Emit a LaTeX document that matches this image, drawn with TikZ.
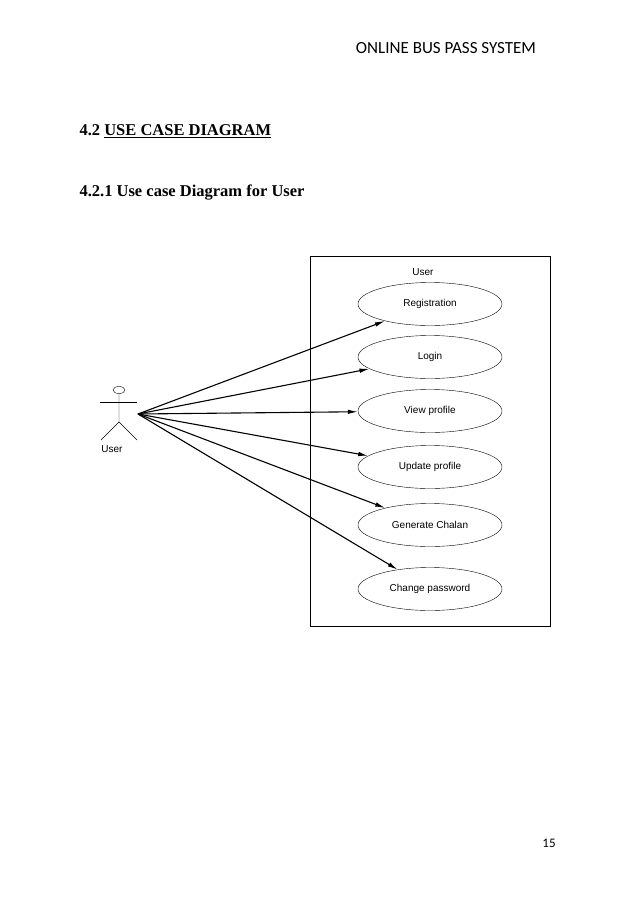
\documentclass[tikz,border=0pt]{standalone}
\usepackage{fontspec}
\setmainfont{Liberation Serif}
\newfontfamily\headfont{Carlito}
\newfontfamily\umlfont{Liberation Sans}
\usetikzlibrary{arrows.meta,positioning,shapes.geometric}
\tikzset{>={Latex[length=10pt,width=4.5pt]}}
\tikzset{
  usecase/.style={draw,ellipse,minimum width=144pt,minimum height=43pt,font=\umlfont\fontsize{10}{12}\selectfont},
  assoc/.style={->,line width=1.1pt}
}

\begin{document}
\begin{tikzpicture}[x=1pt,y=-1pt]
\useasboundingbox (0,0) rectangle (638,903);
%page texts
\node (hdr) at (446,48) {\headfont\fontsize{17}{20}\selectfont ONLINE BUS PASS SYSTEM};
\node[anchor=west] (sec) at (76,131) {\fontsize{16.5}{19}\selectfont\bfseries 4.2 \underline{USE CASE DIAGRAM}};
\node[anchor=west] (subsec) at (76,193) {\fontsize{16.5}{19}\selectfont\bfseries 4.2.1 Use case Diagram for User};
\node (pgno) at (549,843) {\headfont\fontsize{13}{15}\selectfont 15};
%system box
\draw[line width=0.6pt] (310,256) rectangle (550,626);
\node (sysname) at (423,272) {\umlfont\fontsize{10}{12}\selectfont User};
%use cases
\node[usecase] (reg) at (430,304) {Registration};
\node[usecase] (login) at (430,357) {Login};
\node[usecase] (view) at (430,411) {View profile};
\node[usecase] (upd) at (430,467) {Update profile};
\node[usecase] (chalan) at (430,525) {Generate Chalan};
\node[usecase] (pwd) at (430,589) {Change password};
%actor
\draw (119,390) ellipse (6 and 3.5);
\draw (100,402) -- (137,402);
\draw (119,393.5) -- (119,422) -- (101,440);
\draw (119,422) -- (137,440);
\node (actor) at (112,449) {\umlfont\fontsize{10}{12}\selectfont User};
\coordinate (hand) at (138,414);
%associations
\foreach \uc in {reg,login,view,upd,chalan,pwd}
  \draw[assoc] (hand) -- (\uc);
\end{tikzpicture}
\end{document}
